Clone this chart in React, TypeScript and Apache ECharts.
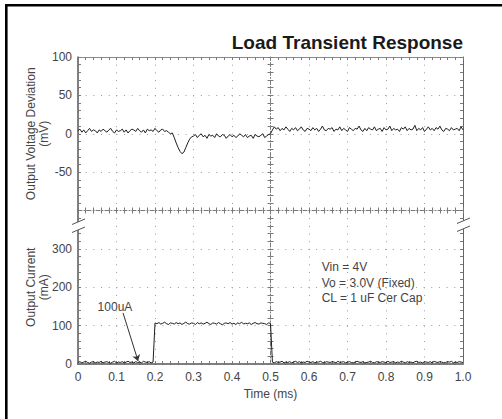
import React, { useEffect, useRef } from 'react';
import * as echarts from 'echarts';

// ---------- data ----------
const SAMPLE_STEP_MS = 0.005;

// Output voltage deviation (mV), one sample every 0.005 ms from 0 to 1.0 ms
const voltageDeviationMv = [
  // 0 – 0.240 ms
  4, 6, 2, 5, 1, 4, 7, 3, 5, 4, 1, 5, 3, 6, 4, 2, 5, 7, 3, 1, 5, 3, 4, 6, 2,
  5, 1, 4, 6, 5, 3, 7, 4, 2, 5, 1, 6, 4, 5, 3, 7, 4, 2, 5, 6, 3, 4, 2, 0,
  // dip 0.245 – 0.295 ms
  1, -5, -12, -18, -23, -26, -24, -18, -12, -7, -4,
  // 0.300 – 0.495 ms
  -3, -1, -5, -2, 0, -4, -2, -6, -1, -3, -2, -5, 0, -3, -4, -1, -2, -6, -3, -1,
  -4, -2, -5, -3, 0, -2, -4, -1, -5, -3, -2, -6, -1, -3, -4, -2, 0, -5, -3, -1,
  // 0.500 – 1.000 ms
  0, 5, 9,
  6, 8, 4, 7, 5, 9, 6, 3, 7, 5, 8, 4, 6, 9, 5, 3, 7, 6, 4, 8,
  5, 7, 3, 6, 10, 5, 4, 7, 6, 8, 3, 6, 5, 9, 4, 7, 5, 3, 8, 6,
  4, 7, 6, 10, 5, 3, 7, 4, 8, 6, 5, 9, 4, 6, 7, 3, 8, 5, 6, 10,
  4, 7, 5, 6, 3, 8, 6, 9, 4, 7, 5, 6, 11, 4, 7, 5, 8, 3, 6, 9,
  5, 7, 4, 8, 6, 10, 5, 3, 7, 6, 4, 8, 5, 6, 7, 4, 9, 5,
];

// Output current (mA), same sampling
const outputCurrentMa = [
  // 0 – 0.195 ms
  4, 6, 3, 5, 7, 4, 2, 5, 6, 3, 5, 4, 7, 3, 5, 6, 4, 2, 5, 7,
  3, 5, 4, 6, 3, 5, 7, 4, 5, 3, 6, 4, 5, 3, 7, 5, 4, 6, 3, 5,
  // 0.200 – 0.500 ms
  107, 105, 108, 104, 106, 109, 105, 103, 107, 106, 104, 108, 105, 107, 103, 106,
  109, 105, 104, 107, 106, 103, 108, 105, 107, 104, 106, 109, 105, 103, 107, 106,
  104, 108, 105, 102, 106, 107, 105, 108, 104, 106, 103, 107, 105, 109, 104, 106,
  105, 107, 103, 106, 108, 105, 104, 107, 106, 105, 103, 107, 106,
  // 0.505 – 1.000 ms
  5, 3, 6, 4, 5, 7, 3, 5, 4, 6, 3, 5, 7, 4, 6, 3, 5, 4, 7, 5,
  4, 6, 3, 5, 5, 7, 4, 3, 6, 5, 4, 6, 5, 3, 7, 4, 5, 6, 3, 5,
  6, 4, 3, 5, 7, 5, 4, 6, 3, 4, 5, 7, 4, 3, 6, 5, 4, 6, 5, 3,
  7, 4, 5, 6, 3, 5, 4, 7, 5, 3, 6, 4, 5, 3, 6, 7, 4, 5, 3, 6,
  5, 4, 6, 3, 7, 5, 4, 6, 5, 3, 4, 6, 5, 7, 3, 5, 4, 6, 5, 4,
];

const timeTickLabels = ['0', '0.1', '0.2', '0.3', '0.4', '0.5', '0.6', '0.7', '0.8', '0.9', '1.0'];
const voltageTicks = { min: -100, max: 100, interval: 50 };
const currentTicks = { min: 0, max: 400, interval: 100 };

const conditionLines = ['Vin = 4V', 'Vo = 3.0V (Fixed)', 'CL = 1 uF Cer Cap'];
const conditionCurrentPos = [252, 211, 172]; // mA positions of the text lines
const conditionTimePos = 0.633;
const lightLoadLabel = '100uA';
const lightLoadLabelPos = [0.096, 148];
const lightLoadArrow = [[0.117, 133], [0.156, 8]];

// ---------- layout ----------
const GRID_LEFT = 78;
const GRID_W = 385;
const PLOT_TOP = 57;
const PLOT_BOTTOM = 364;
const HALF_H = (PLOT_BOTTOM - PLOT_TOP) / 2;
const MID_Y = PLOT_TOP + HALF_H;
const FONT = '"Liberation Sans", Arial, sans-serif';

export default function App() {
  const ref = useRef<HTMLDivElement>(null);

  useEffect(() => {
    const chart = echarts.init(ref.current!, null, { renderer: 'svg' });

    const voltagePairs = voltageDeviationMv.map((v, i) => [+(i * SAMPLE_STEP_MS).toFixed(3), v]);
    const currentPairs = outputCurrentMa.map((v, i) => [+(i * SAMPLE_STEP_MS).toFixed(3), v]);

    const dotted = { color: '#9a9a9a', width: 1, type: [1, 6.68] };
    const tickLine = { color: '#7a7a7a', width: 1 };
    const insideTick = { show: true, inside: true, length: 3, lineStyle: tickLine };
    const minor = { show: true, splitNumber: 5, length: 3, lineStyle: tickLine };
    const noLabel = { show: false };
    const labelStyle = { color: '#444', fontSize: 12, fontFamily: FONT };
    const centerLine = { show: true, onZero: false, lineStyle: { color: '#7a7a7a', width: 1, type: [4, 2, 1, 2] } };

    const xBase = { type: 'value', min: 0, max: 1, interval: 0.1 };

    const xAxis = [
      { ...xBase, gridIndex: 0, position: 'top',
        axisLine: { show: true, onZero: false, lineStyle: { color: '#8a8a8a', width: 1 } },
        axisTick: insideTick, minorTick: minor, axisLabel: noLabel,
        splitLine: { show: true, lineStyle: dotted } },
      { ...xBase, gridIndex: 0, position: 'bottom',
        axisLine: centerLine, axisTick: insideTick, minorTick: minor, axisLabel: noLabel,
        splitLine: { show: false } },
      { ...xBase, gridIndex: 1, position: 'top',
        axisLine: { show: false, onZero: false }, axisTick: insideTick, minorTick: minor, axisLabel: noLabel,
        splitLine: { show: true, lineStyle: dotted } },
      { ...xBase, gridIndex: 1, position: 'bottom',
        axisLine: { show: true, onZero: false, lineStyle: { color: '#555', width: 1.5 } },
        axisTick: insideTick, minorTick: minor,
        axisLabel: { show: true, margin: 7, ...labelStyle,
          formatter: (v: number) => timeTickLabels[Math.round(v * 10)] ?? '' },
        splitLine: { show: false },
        name: 'Time (ms)', nameLocation: 'middle', nameGap: 24,
        nameTextStyle: { ...labelStyle } },
    ];

    const yGroup = (gridIndex: number, ticks: { min: number; max: number; interval: number }) => {
      const base = { type: 'value', gridIndex, min: ticks.min, max: ticks.max, interval: ticks.interval };
      return [
        { ...base, position: 'left',
          axisLine: { show: true, onZero: false, lineStyle: { color: '#555', width: 1.5 } },
          axisTick: insideTick, minorTick: minor,
          axisLabel: { show: true, margin: 6, ...labelStyle,
            formatter: (v: number) => (v === ticks.max && gridIndex === 1) || (v === ticks.min && gridIndex === 0) ? '' : String(v) },
          splitLine: { show: true, lineStyle: dotted } },
        { ...base, position: 'right',
          axisLine: { show: true, onZero: false, lineStyle: { color: '#666', width: 1 } },
          axisTick: insideTick, minorTick: minor, axisLabel: noLabel, splitLine: { show: false } },
        { ...base, position: 'left', offset: -GRID_W / 2,
          axisLine: centerLine, axisTick: insideTick, minorTick: minor, axisLabel: noLabel, splitLine: { show: false } },
        { ...base, position: 'right', offset: -GRID_W / 2,
          axisLine: { show: false, onZero: false }, axisTick: insideTick, minorTick: minor, axisLabel: noLabel, splitLine: { show: false } },
      ];
    };

    const yAxis = [...yGroup(0, voltageTicks), ...yGroup(1, currentTicks)];

    const option: any = {
      animation: false,
      backgroundColor: '#fff',
      textStyle: { fontFamily: FONT },
      grid: [
        { left: GRID_LEFT, top: PLOT_TOP, width: GRID_W, height: HALF_H },
        { left: GRID_LEFT, top: MID_Y, width: GRID_W, height: HALF_H },
      ],
      xAxis,
      yAxis,
      series: [
        { type: 'line', name: 'Output Voltage Deviation', xAxisIndex: 1, yAxisIndex: 0,
          data: voltagePairs, symbol: 'none', lineStyle: { color: '#1e1e1e', width: 1 }, z: 5 },
        { type: 'line', name: 'Output Current', xAxisIndex: 3, yAxisIndex: 4,
          data: currentPairs, symbol: 'none', lineStyle: { color: '#1e1e1e', width: 1 }, z: 5,
          markLine: { silent: true, symbol: ['none', 'arrow'], symbolSize: 6,
            lineStyle: { color: '#333', width: 1, type: 'solid' }, label: { show: false },
            data: [[{ coord: lightLoadArrow[0] }, { coord: lightLoadArrow[1] }]] } },
      ],
    };
    chart.setOption(option);

    const toPx = (p: number[]) => chart.convertToPixel({ xAxisIndex: 3, yAxisIndex: 4 } as any, p) as number[];

    const breakMark = (x: number, y: number) => [
      { type: 'polygon', z: 100, shape: { points: [[x - 6, y - 1.5], [x + 7, y - 7], [x + 7, y + 1], [x - 6, y + 6.5]] },
        style: { fill: '#fff' } },
      { type: 'line', z: 101, shape: { x1: x - 6, y1: y - 1.5, x2: x + 7, y2: y - 7 }, style: { stroke: '#555', lineWidth: 1 } },
      { type: 'line', z: 101, shape: { x1: x - 6, y1: y + 6.5, x2: x + 7, y2: y + 1 }, style: { stroke: '#555', lineWidth: 1 } },
    ];

    const graphic: any[] = [
      { type: 'rect', z: 100, shape: { x: 5, y: 4, width: 2.6, height: 420 }, style: { fill: '#000' } },
      { type: 'rect', z: 100, shape: { x: 5, y: 4, width: 500, height: 2.6 }, style: { fill: '#000' } },
      { type: 'text', z: 100, x: GRID_LEFT + GRID_W, y: 42,
        style: { text: 'Load Transient Response', font: `bold 19px ${FONT}`, fill: '#1a1a1a', align: 'right', verticalAlign: 'middle' } },
      { type: 'text', z: 100, x: 37, y: PLOT_TOP + HALF_H / 2, rotation: Math.PI / 2,
        style: { text: 'Output Voltage Deviation\n(mV)', font: `12px ${FONT}`, fill: '#444', align: 'center', verticalAlign: 'middle', lineHeight: 13 } },
      { type: 'text', z: 100, x: 37, y: MID_Y + HALF_H / 2, rotation: Math.PI / 2,
        style: { text: 'Output Current\n(mA)', font: `12px ${FONT}`, fill: '#444', align: 'center', verticalAlign: 'middle', lineHeight: 13 } },
      ...breakMark(GRID_LEFT, 226),
      ...breakMark(GRID_LEFT + GRID_W, 225),
    ];

    conditionLines.forEach((t, i) => {
      const [px, py] = toPx([conditionTimePos, conditionCurrentPos[i]]);
      graphic.push({ type: 'text', z: 100, x: px, y: py,
        style: { text: t, font: `12px ${FONT}`, fill: '#444', align: 'left', verticalAlign: 'middle' } });
    });
    {
      const [px, py] = toPx(lightLoadLabelPos);
      graphic.push({ type: 'text', z: 100, x: px, y: py,
        style: { text: lightLoadLabel, font: `12px ${FONT}`, fill: '#444', align: 'center', verticalAlign: 'middle' } });
    }

    chart.setOption({ graphic });

    return () => chart.dispose();
  }, []);

  return (
    <div
      ref={ref}
      style={{ position: 'fixed', left: 0, top: 0, width: 502, height: 419, background: '#fff' }}
    />
  );
}
